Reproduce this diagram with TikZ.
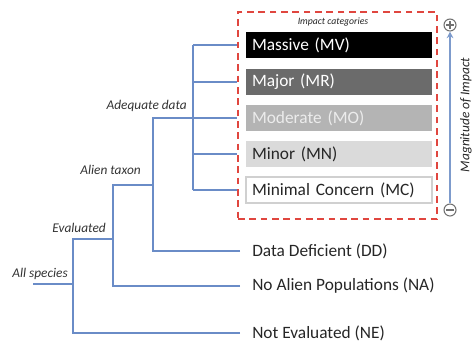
\documentclass[tikz,border=0pt]{standalone}
\usepackage{fontspec}
\setmainfont{Carlito}
\usetikzlibrary{arrows.meta}
\definecolor{branchblue}{HTML}{6A8CC7}
\definecolor{dashred}{HTML}{E0463F}
\definecolor{majorgray}{HTML}{6B6B6B}
\definecolor{modgray}{HTML}{B4B4B4}
\definecolor{modtext}{HTML}{ECECEC}
\definecolor{minorgray}{HTML}{DADADA}
\definecolor{darktext}{HTML}{262626}
\definecolor{labeltext}{HTML}{333333}
\definecolor{mcborder}{HTML}{D0D0D0}
\definecolor{arrowblue}{HTML}{7D9BCC}
\definecolor{symgray}{HTML}{707070}
\begin{document}
\begin{tikzpicture}[x=0.75pt,y=-0.75pt,
  catbox/.style={minimum width=139.5pt, minimum height=19.5pt, text width=130.5pt,
    inner xsep=4.5pt, inner ysep=0pt, align=left, font=\fontsize{13}{15}\selectfont},
  outcome/.style={anchor=west, inner xsep=9pt, inner ysep=0pt, text=darktext,
    font=\fontsize{13}{15}\selectfont},
  branchlabel/.style={anchor=east, inner sep=0pt, text=labeltext,
    font=\itshape\fontsize{10}{12}\selectfont},
  branch/.style={draw=branchblue, line width=1.5pt},
  dashframe/.style={draw=dashred, line width=1.5pt, dash pattern=on 5pt off 3.5pt},
  symcircle/.style={circle, draw=symgray, line width=0.8pt, minimum size=9pt, inner sep=0pt},
  symbar/.style={draw=symgray, line width=0.9pt},
  magarrow/.style={draw=arrowblue, line width=1.1pt, -{Stealth[length=5pt,width=5pt]}}
]
\useasboundingbox (0,0) rectangle (474,344);

% impact category frame
\node[dashframe, minimum width=149.25pt, minimum height=155.25pt, inner sep=0pt] (cat) at (337.5,115.5) {};
\node[inner sep=0pt, text=darktext, font=\itshape\fontsize{7.3}{9}\selectfont] (catlabel) at (333,22) {Impact categories};

% category boxes
\node[catbox, fill=black, text=white] (mv) at (339,45) {Massive (MV)};
\node[catbox, fill=majorgray, text=white] (mr) at (339,81.5) {Major (MR)};
\node[catbox, fill=modgray, text=modtext] (mo) at (339,118) {Moderate (MO)};
\node[catbox, fill=minorgray, text=darktext] (mn) at (339,154) {Minor (MN)};
\node[catbox, fill=white, draw=mcborder, line width=0.8pt, text=darktext] (mc) at (339,190) {Minimal Concern (MC)};

% outcomes
\node[outcome] (dd) at (240,251) {Data Deficient (DD)};
\node[outcome] (na) at (240,286) {No Alien Populations (NA)};
\node[outcome] (ne) at (240,333) {Not Evaluated (NE)};

% tree junctions
\coordinate (root) at (33,284);
\coordinate (sV) at (73,239);
\coordinate (eV) at (113,185);
\coordinate (tV) at (153,118);
\coordinate (aV) at (193,45);

\draw[branch] (root) -- (root -| sV);
\draw[branch] (ne.west) -| (sV) -- (sV -| eV);
\draw[branch] (na.west) -| (eV) -- (eV -| tV);
\draw[branch] (dd.west) -| (tV) -- (tV -| aV);
\draw[branch] (aV |- mc) -- (aV);
\foreach \n in {mv,mr,mo,mn,mc}
  \draw[branch] (aV |- \n) -- (cat.west |- \n);

% branch labels
\node[branchlabel] (lall) at (68,274) {All species};
\node[branchlabel] (leval) at (106,228) {Evaluated};
\node[branchlabel] (lalien) at (141,170) {Alien taxon};
\node[branchlabel] (ladeq) at (187,106) {Adequate data};

% magnitude axis
\node[symcircle] (plus) at (450,25) {};
\node[symcircle] (minus) at (450,210) {};
\draw[symbar] ([xshift=-2.8pt]plus.center) -- ([xshift=2.8pt]plus.center);
\draw[symbar] ([yshift=-2.8pt]plus.center) -- ([yshift=2.8pt]plus.center);
\draw[symbar] ([xshift=-2.8pt]minus.center) -- ([xshift=2.8pt]minus.center);
\draw[magarrow] (minus.north) -- (plus.south);
\node[rotate=90, inner sep=0pt, text=darktext, font=\itshape\fontsize{10}{12}\selectfont] (mag) at (466,115) {Magnitude of Impact};
\end{tikzpicture}
\end{document}
